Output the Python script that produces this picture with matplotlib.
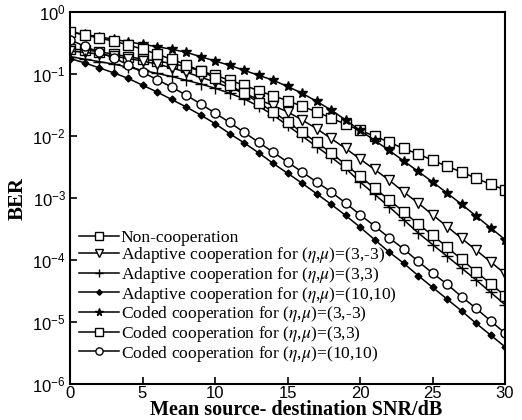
import numpy as np
import matplotlib
matplotlib.use("Agg")
import matplotlib.pyplot as plt

plt.rcParams['font.family'] = ['Liberation Sans', 'DejaVu Sans']
plt.rcParams['mathtext.fontset'] = 'stix'

snr_db = list(range(0, 31))

# -log10(BER) at each SNR point
noncoop = [0.60, 0.61, 0.64, 0.68, 0.72, 0.76, 0.79, 0.83, 0.88, 0.95, 1.02, 1.10, 1.18, 1.27, 1.35, 1.43,
           1.52, 1.61, 1.71, 1.81, 1.91, 2.00, 2.10, 2.20, 2.29, 2.39, 2.49, 2.58, 2.68, 2.78, 2.87]
adapt_3m3 = [0.63, 0.65, 0.68, 0.71, 0.75, 0.79, 0.84, 0.90, 0.97, 1.05, 1.13, 1.22, 1.31, 1.41, 1.51, 1.61,
             1.74, 1.88, 2.04, 2.20, 2.37, 2.54, 2.71, 2.90, 3.08, 3.27, 3.46, 3.65, 3.84, 4.03, 4.22]
adapt_33 = [0.72, 0.76, 0.80, 0.84, 0.89, 0.94, 0.99, 1.04, 1.10, 1.16, 1.23, 1.31, 1.40, 1.52, 1.66, 1.83,
            2.00, 2.17, 2.34, 2.52, 2.74, 2.94, 3.14, 3.35, 3.56, 3.75, 3.94, 4.13, 4.32, 4.52, 4.72]
adapt_1010 = [0.75, 0.82, 0.90, 0.98, 1.07, 1.18, 1.29, 1.41, 1.53, 1.66, 1.80, 1.96, 2.11, 2.27, 2.44, 2.60,
              2.76, 2.93, 3.10, 3.28, 3.47, 3.67, 3.87, 4.05, 4.25, 4.44, 4.63, 4.82, 5.02, 5.21, 5.40]
coded_3m3 = [0.32, 0.36, 0.40, 0.44, 0.48, 0.52, 0.56, 0.60, 0.65, 0.72, 0.79, 0.86, 0.94, 1.02, 1.10, 1.20,
             1.31, 1.44, 1.58, 1.74, 1.91, 2.07, 2.23, 2.40, 2.57, 2.74, 2.92, 3.10, 3.29, 3.48, 3.67]
coded_33 = [0.32, 0.37, 0.42, 0.47, 0.53, 0.60, 0.68, 0.76, 0.85, 0.95, 1.06, 1.18, 1.31, 1.46, 1.61, 1.77,
            1.94, 2.10, 2.27, 2.46, 2.65, 2.84, 3.03, 3.22, 3.42, 3.60, 3.79, 3.99, 4.19, 4.38, 4.58]
coded_1010 = [0.45, 0.55, 0.65, 0.74, 0.85, 0.97, 1.09, 1.21, 1.34, 1.48, 1.63, 1.78, 1.94, 2.10, 2.26, 2.42,
              2.58, 2.74, 2.90, 3.08, 3.27, 3.45, 3.64, 3.82, 4.02, 4.21, 4.39, 4.59, 4.78, 4.98, 5.18]

labels = [
    "Non-cooperation",
    r"Adaptive cooperation for ($\eta$,$\mu$)=(3,-3)",
    r"Adaptive cooperation for ($\eta$,$\mu$)=(3,3)",
    r"Adaptive cooperation for ($\eta$,$\mu$)=(10,10)",
    r"Coded cooperation for ($\eta$,$\mu$)=(3,-3)",
    r"Coded cooperation for ($\eta$,$\mu$)=(3,3)",
    r"Coded cooperation for ($\eta$,$\mu$)=(10,10)",
]
series = [noncoop, adapt_3m3, adapt_33, adapt_1010, coded_3m3, coded_33, coded_1010]
styles = [
    dict(marker='s', mfc='white', ms=6.5),
    dict(marker='v', mfc='white', ms=7),
    dict(marker='+', mfc='black', ms=8, mew=1.0),
    dict(marker='D', mfc='black', ms=3.5),
    dict(marker='*', mfc='black', ms=7),
    dict(marker='s', mfc='white', ms=6.5),
    dict(marker='o', mfc='white', ms=6.5),
]

fig = plt.figure(figsize=(5.22, 4.2), dpi=100)
ax = fig.add_axes([70/522, 1-384/420, (505-70)/522, (384-12)/420])

for vals, lab, st in zip(series, labels, styles):
    ber = 10.0 ** (-np.array(vals))
    ax.semilogy(snr_db, ber, color='black', lw=1.1, mec='black', mew=st.pop('mew', 1.0),
                label=lab, **st)

ax.set_xlim(0, 30)
ax.set_ylim(1e-6, 1)
ax.set_xticks([0, 5, 10, 15, 20, 25, 30])
ax.set_yticks([1e0, 1e-1, 1e-2, 1e-3, 1e-4, 1e-5, 1e-6])
ax.minorticks_off()
ax.tick_params(direction='in', length=5, width=1.2, labelsize=12)
ax.tick_params(axis='x', pad=1.5)
ax.tick_params(axis='y', pad=3)
for s in ax.spines.values():
    s.set_linewidth(1.5)

serif = ['Liberation Serif', 'DejaVu Serif']
ax.set_xlabel("Mean source- destination SNR/dB", fontsize=14.5, fontweight='bold', family=serif)
ax.xaxis.set_label_coords(0.52, -0.043)
ax.set_ylabel("BER", fontsize=15, fontweight='bold', family=serif)
ax.yaxis.set_label_coords(-0.097, 0.5)

leg = ax.legend(loc='lower left', frameon=False, prop={'family': serif, 'size': 12.6},
                handlelength=2.3, handletextpad=0.1, labelspacing=-0.02,
                borderpad=0.0, borderaxespad=0.0, bbox_to_anchor=(0.02, 0.055))
for h in leg.legend_handles:
    h.set_markersize(h.get_markersize() * 0.8)

fig.savefig("out.png", dpi=100)
